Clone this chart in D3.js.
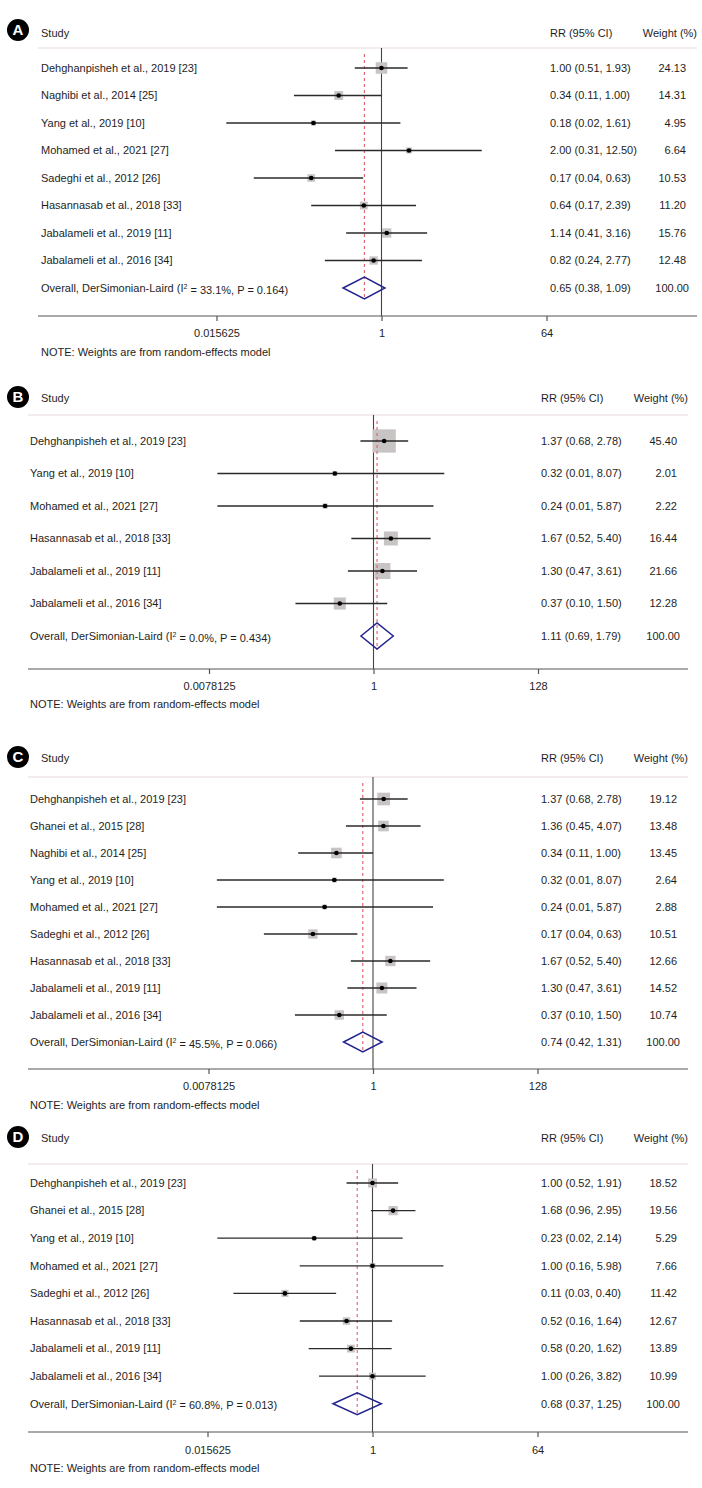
<!DOCTYPE html>
<html>
<head>
<meta charset="utf-8">
<script src="https://cdn.jsdelivr.net/npm/d3@7"></script>
<style>
  html, body { margin: 0; padding: 0; background: #fff; }
  svg { display: block; }
  text { font-family: "Liberation Sans", Arial, sans-serif; fill: #1e1e1e; }
</style>
</head>
<body>
<svg id="chart" width="702" height="1488"></svg>
<script>
// ---------------- DATA ----------------
const studiesA = ["Dehghanpisheh et al., 2019 [23]", "Naghibi et al., 2014 [25]", "Yang et al., 2019 [10]", "Mohamed et al., 2021 [27]", "Sadeghi et al., 2012 [26]", "Hasannasab et al., 2018 [33]", "Jabalameli et al., 2019 [11]", "Jabalameli et al., 2016 [34]"];
const rrA = [1.00, 0.34, 0.18, 2.00, 0.17, 0.64, 1.14, 0.82];
const loA = [0.51, 0.11, 0.02, 0.31, 0.04, 0.17, 0.41, 0.24];
const hiA = [1.93, 1.00, 1.61, 12.50, 0.63, 2.39, 3.16, 2.77];
const weightA = [24.13, 14.31, 4.95, 6.64, 10.53, 11.20, 15.76, 12.48];
const overallA = {rr: 0.65, lo: 0.38, hi: 1.09, i2: "33.1%", p: "0.164"};
const ticksA = [0.015625, 1, 64];

const studiesB = ["Dehghanpisheh et al., 2019 [23]", "Yang et al., 2019 [10]", "Mohamed et al., 2021 [27]", "Hasannasab et al., 2018 [33]", "Jabalameli et al., 2019 [11]", "Jabalameli et al., 2016 [34]"];
const rrB = [1.37, 0.32, 0.24, 1.67, 1.30, 0.37];
const loB = [0.68, 0.01, 0.01, 0.52, 0.47, 0.10];
const hiB = [2.78, 8.07, 5.87, 5.40, 3.61, 1.50];
const weightB = [45.40, 2.01, 2.22, 16.44, 21.66, 12.28];
const overallB = {rr: 1.11, lo: 0.69, hi: 1.79, i2: "0.0%", p: "0.434"};
const ticksB = [0.0078125, 1, 128];

const studiesC = ["Dehghanpisheh et al., 2019 [23]", "Ghanei et al., 2015 [28]", "Naghibi et al., 2014 [25]", "Yang et al., 2019 [10]", "Mohamed et al., 2021 [27]", "Sadeghi et al., 2012 [26]", "Hasannasab et al., 2018 [33]", "Jabalameli et al., 2019 [11]", "Jabalameli et al., 2016 [34]"];
const rrC = [1.37, 1.36, 0.34, 0.32, 0.24, 0.17, 1.67, 1.30, 0.37];
const loC = [0.68, 0.45, 0.11, 0.01, 0.01, 0.04, 0.52, 0.47, 0.10];
const hiC = [2.78, 4.07, 1.00, 8.07, 5.87, 0.63, 5.40, 3.61, 1.50];
const weightC = [19.12, 13.48, 13.45, 2.64, 2.88, 10.51, 12.66, 14.52, 10.74];
const overallC = {rr: 0.74, lo: 0.42, hi: 1.31, i2: "45.5%", p: "0.066"};
const ticksC = [0.0078125, 1, 128];

const studiesD = ["Dehghanpisheh et al., 2019 [23]", "Ghanei et al., 2015 [28]", "Yang et al., 2019 [10]", "Mohamed et al., 2021 [27]", "Sadeghi et al., 2012 [26]", "Hasannasab et al., 2018 [33]", "Jabalameli et al., 2019 [11]", "Jabalameli et al., 2016 [34]"];
const rrD = [1.00, 1.68, 0.23, 1.00, 0.11, 0.52, 0.58, 1.00];
const loD = [0.52, 0.96, 0.02, 0.16, 0.03, 0.16, 0.20, 0.26];
const hiD = [1.91, 2.95, 2.14, 5.98, 0.40, 1.64, 1.62, 3.82];
const weightD = [18.52, 19.56, 5.29, 7.66, 11.42, 12.67, 13.89, 10.99];
const overallD = {rr: 0.68, lo: 0.37, hi: 1.25, i2: "60.8%", p: "0.013"};
const ticksD = [0.015625, 1, 64];

const panelLetters = ["A", "B", "C", "D"];
const headerTexts = ["Study", "RR (95% CI)", "Weight (%)"];
const noteText = "NOTE: Weights are from random-effects model";

// ---------------- LAYOUT (positions / styles) ----------------
const layouts = [
  {badgeY: 30, headY: 33, lineY: 48, row0: 68, step: 27.5, axisY: 316, tickY: 333, noteY: 352,
   left: 38, right: 697, labelX: 41, x0: 216.5, x1: 546.5, rrX: 550, wX: 686, wHeadX: 697, k: 2.35, dh: 11},
  {badgeY: 397, headY: 398, lineY: 415, row0: 441, step: 32.5, axisY: 669, tickY: 686, noteY: 704,
   left: 28, right: 688, labelX: 30, x0: 209, x1: 538, rrX: 541, wX: 677, wHeadX: 688, k: 3.45, dh: 13},
  {badgeY: 757, headY: 758, lineY: 777, row0: 799, step: 27, axisY: 1069, tickY: 1086, noteY: 1105,
   left: 28, right: 688, labelX: 30, x0: 208.5, x1: 537.5, rrX: 541, wX: 677, wHeadX: 688, k: 2.9, dh: 10},
  {badgeY: 1137, headY: 1138, lineY: 1164, row0: 1183, step: 27.6, axisY: 1432, tickY: 1450, noteY: 1468,
   left: 28, right: 688, labelX: 30, x0: 207.5, x1: 537.5, rrX: 541, wX: 677, wHeadX: 688, k: 2.1, dh: 11}
];

const panels = [
  {studies: studiesA, rr: rrA, lo: loA, hi: hiA, w: weightA, overall: overallA, ticks: ticksA},
  {studies: studiesB, rr: rrB, lo: loB, hi: hiB, w: weightB, overall: overallB, ticks: ticksB},
  {studies: studiesC, rr: rrC, lo: loC, hi: hiC, w: weightC, overall: overallC, ticks: ticksC},
  {studies: studiesD, rr: rrD, lo: loD, hi: hiD, w: weightD, overall: overallD, ticks: ticksD}
];

const fmt = d3.format(".2f");
const fs = 11;
const svg = d3.select("#chart");

panels.forEach((P, pi) => {
  const L = layouts[pi];
  const g = svg.append("g");
  const ticks = P.ticks;
  const x = d3.scaleLog().base(2).domain([ticks[0], ticks[ticks.length - 1]]).range([L.x0, L.x1]);
  const yRow = i => L.row0 + i * L.step;
  const n = P.studies.length;
  const overallY = yRow(n);

  // badge
  g.append("circle").attr("cx", 18).attr("cy", L.badgeY).attr("r", 11).attr("fill", "#000");
  g.append("text").attr("x", 18).attr("y", L.badgeY).attr("dy", "0.36em")
    .attr("text-anchor", "middle").style("font-size", "15px").style("font-weight", "bold")
    .style("fill", "#fff").style("font-family", "'Liberation Sans', Arial, sans-serif").text(panelLetters[pi]);

  // header
  g.append("text").attr("x", 41).attr("y", L.headY).attr("dy", "0.35em").style("font-size", fs + "px").text(headerTexts[0]);
  g.append("text").attr("x", L.rrX).attr("y", L.headY).attr("dy", "0.35em").style("font-size", fs + "px").text(headerTexts[1]);
  g.append("text").attr("x", L.wHeadX).attr("y", L.headY).attr("dy", "0.35em").attr("text-anchor", "end").style("font-size", fs + "px").text(headerTexts[2]);
  g.append("line").attr("x1", L.left).attr("x2", L.right).attr("y1", L.lineY).attr("y2", L.lineY)
    .attr("stroke", "#eadada").attr("stroke-width", 1.2);

  // null line
  g.append("line").attr("x1", x(1)).attr("x2", x(1)).attr("y1", L.lineY).attr("y2", L.axisY)
    .attr("stroke", "#444").attr("stroke-width", 1.1);

  // boxes
  const rows = P.studies.map((s, i) => ({s, rr: P.rr[i], lo: P.lo[i], hi: P.hi[i], w: P.w[i], i}));
  g.selectAll("rect.box").data(rows).enter().append("rect").attr("class", "box")
    .attr("x", d => x(d.rr) - L.k * Math.sqrt(d.w) / 2)
    .attr("y", d => yRow(d.i) - L.k * Math.sqrt(d.w) / 2)
    .attr("width", d => L.k * Math.sqrt(d.w))
    .attr("height", d => L.k * Math.sqrt(d.w))
    .attr("fill", "#c9c4c4");

  // overall dashed line
  g.append("line").attr("x1", x(P.overall.rr)).attr("x2", x(P.overall.rr))
    .attr("y1", L.lineY + 6).attr("y2", overallY + L.dh + 1)
    .attr("stroke", "#e0606c").attr("stroke-width", 1.1).attr("stroke-dasharray", "3,3");

  // whiskers
  g.selectAll("line.ci").data(rows).enter().append("line").attr("class", "ci")
    .attr("x1", d => x(d.lo)).attr("x2", d => x(d.hi))
    .attr("y1", d => yRow(d.i)).attr("y2", d => yRow(d.i))
    .attr("stroke", "#2a2a2a").attr("stroke-width", 1.3);
  // points
  g.selectAll("circle.pt").data(rows).enter().append("circle").attr("class", "pt")
    .attr("cx", d => x(d.rr)).attr("cy", d => yRow(d.i)).attr("r", 2.3).attr("fill", "#000");

  // labels
  g.selectAll("text.lab").data(rows).enter().append("text").attr("class", "lab")
    .attr("x", L.labelX).attr("y", d => yRow(d.i)).attr("dy", "0.35em").style("font-size", fs + "px").text(d => d.s);
  g.selectAll("text.rr").data(rows).enter().append("text").attr("class", "rr")
    .attr("x", L.rrX).attr("y", d => yRow(d.i)).attr("dy", "0.35em").style("font-size", fs + "px")
    .text(d => `${fmt(d.rr)} (${fmt(d.lo)}, ${fmt(d.hi)})`);
  g.selectAll("text.wt").data(rows).enter().append("text").attr("class", "wt")
    .attr("x", L.wX).attr("y", d => yRow(d.i)).attr("dy", "0.35em").attr("text-anchor", "end").style("font-size", fs + "px")
    .text(d => fmt(d.w));

  // overall diamond
  const o = P.overall;
  g.append("path")
    .attr("d", `M${x(o.lo)},${overallY} L${x(o.rr)},${overallY - L.dh} L${x(o.hi)},${overallY} L${x(o.rr)},${overallY + L.dh} Z`)
    .attr("fill", "none").attr("stroke", "#23238f").attr("stroke-width", 1.5);
  const ot = g.append("text").attr("x", L.labelX).attr("y", overallY).attr("dy", "0.35em").style("font-size", fs + "px");
  ot.append("tspan").text("Overall, DerSimonian-Laird (I");
  ot.append("tspan").attr("dy", "-0.45em").style("font-size", "7px").text("2");
  ot.append("tspan").attr("dy", "0.45em").text(` = ${o.i2}, P = ${o.p})`);
  g.append("text").attr("x", L.rrX).attr("y", overallY).attr("dy", "0.35em").style("font-size", fs + "px")
    .text(`${fmt(o.rr)} (${fmt(o.lo)}, ${fmt(o.hi)})`);
  g.append("text").attr("x", L.wX + 3).attr("y", overallY).attr("dy", "0.35em").attr("text-anchor", "end").style("font-size", fs + "px")
    .text(fmt(100));

  // axis
  g.append("line").attr("x1", L.left).attr("x2", L.right).attr("y1", L.axisY).attr("y2", L.axisY)
    .attr("stroke", "#555").attr("stroke-width", 1.2);
  const axis = d3.axisBottom(x).tickValues(ticks).tickSize(5).tickFormat(d => String(d));
  const ag = g.append("g").attr("transform", `translate(0,${L.axisY})`).call(axis);
  ag.select(".domain").remove();
  ag.selectAll(".tick line").attr("stroke", "#555").attr("stroke-width", 1.2);
  ag.selectAll(".tick text").attr("y", L.tickY - L.axisY).attr("dy", "0.35em")
    .style("font-size", fs + "px").style("font-family", "'Liberation Sans', Arial, sans-serif").attr("fill", "#1e1e1e");

  g.append("text").attr("x", L.labelX).attr("y", L.noteY).attr("dy", "0.35em").style("font-size", fs + "px").text(noteText);
});
</script>
</body>
</html>
